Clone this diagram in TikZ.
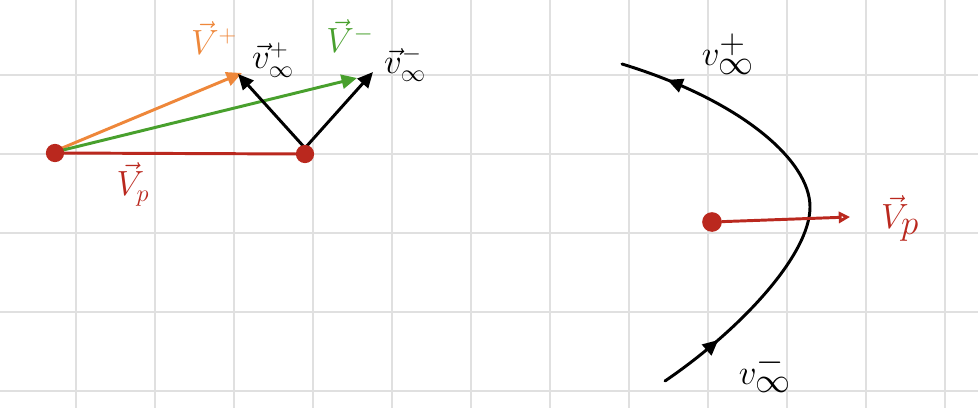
\documentclass[tikz,border=0pt]{standalone}
\usetikzlibrary{
  arrows.meta,
  decorations.markings,
  positioning,
}
\definecolor{penred}{RGB}{186,40,30}
\definecolor{penorange}{RGB}{238,135,58}
\definecolor{pengreen}{RGB}{72,160,45}
\tikzset{
  >={Triangle[length=11pt,width=10pt]},
  pen/.style={line width=2.1pt, line cap=round},
  gridline/.style={black!12, line width=1.3pt},
  dot/.style={circle, fill=penred, inner sep=0pt, minimum size=13pt},
  lbl/.style={font=\fontsize{27}{31}\selectfont},
  biglbl/.style={font=\fontsize{34}{38}\selectfont},
  flow/.style={postaction=decorate, decoration={markings,
      mark=at position 0.14 with {\arrow{>}},
      mark=at position 0.9 with {\arrow{>}}}},
}

\begin{document}
\begin{tikzpicture}[x=0.025cm, y=-0.025cm]

        \useasboundingbox (0,0) rectangle (978,408);

        % squared paper
        \foreach \i in {0,...,11} {
          \draw [gridline] (76 + \i * 79, 0) -- (76 + \i * 79, 408);
        }
        \foreach \j in {0,...,4} {
          \draw [gridline] (0, 75 + \j * 79) -- (978, 75 + \j * 79);
        }

        % velocity triangle
        \coordinate (vplus) at (242,73);
        \coordinate (vminus) at (357,78);
        \coordinate (vinfp) at (238,74);
        \coordinate (vinfm) at (373,72);
        \coordinate (base) at (305,148);

        \draw [pen, penorange, ->] (55,151) -- (vplus);
        \draw [pen, pengreen, ->] (55,152) -- (vminus);
        \draw [pen, ->] (base) -- (vinfp);
        \draw [pen, ->] (base) -- (vinfm);

        \node [dot] (sun) at (55,153) {};
        \node [dot] (tip) at (305,154) {};
        \draw [pen, penred] (sun) -- (tip);

        \node [lbl, penorange] (lvplus) at (214,38) {$\vec V^{+}$};
        \node [lbl] (lvinfp) at (273,60) {$\vec v_\infty^{+}$};
        \node [lbl, pengreen] (lvminus) at (350,36) {$\vec V^{-}$};
        \node [lbl] (lvinfm) at (405,64) {$\vec v_\infty^{-}$};
        \node [lbl, penred] (lvp) at (133,184) {$\vec V_p$};

        % flyby trajectory
        \coordinate (cin) at (665,381);
        \coordinate (apex) at (810,207);
        \coordinate (cout) at (622,64);
        \draw [pen, flow] (cin) .. controls (740,330) and (810,255) .. (apex)
              .. controls (810,160) and (740,100) .. (cout);

        \node [dot, minimum size=14pt] (planet) at (712,222) {};
        \coordinate (vptip) at (850,217);
        \draw [pen, penred, -{Triangle[open, length=8pt, width=8pt]}]
              (planet) -- (vptip);

        \node [biglbl] (rvinfp) at (728,54) {$v_\infty^{+}$};
        \node [biglbl] (rvinfm) at (765,372) {$v_\infty^{-}$};
        \node [biglbl, penred] (rvp) at (900,218) {$\vec V_p$};
      \end{tikzpicture}
\end{document}
